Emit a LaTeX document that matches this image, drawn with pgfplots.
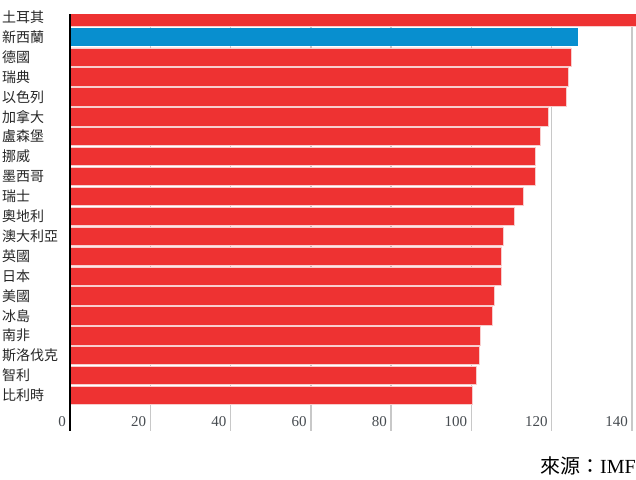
\documentclass[border=0pt]{standalone}
\usepackage{pgfplots}
\pgfplotsset{compat=1.18}
\usepackage{fontspec}
\setmainfont{Liberation Serif}
\newfontfamily\cjk{Noto Sans CJK TC}
\definecolor{barred}{RGB}{238,50,50}
\definecolor{barblue}{RGB}{8,143,207}
\definecolor{gridgray}{RGB}{200,200,200}
\definecolor{ticktext}{RGB}{70,75,80}
\definecolor{sep}{RGB}{248,205,205}
\begin{document}
\begin{tikzpicture}
\path[use as bounding box] (0,0) rectangle (636bp,480bp);
\begin{axis}[
  at={(70bp,49bp)}, anchor=south west,
  scale only axis, width=566bp, height=416.7bp,
  enlargelimits=false,
  xmin=0, xmax=141, ymin=-0.14, ymax=20.79,
  y dir=reverse,
  xbar, bar shift=0pt, bar width=0.917,
  axis lines=left, axis line style={-},
  x axis line style={draw=none},
  y axis line style={line width=2bp, black},
  major tick length=0pt,
  xtick={0,20,...,140},
  xmajorgrids, grid style={gridgray, line width=1.3bp},
  ytick={0,...,19},
  yticklabels={土耳其,新西蘭,德國,瑞典,以色列,加拿大,盧森堡,挪威,墨西哥,瑞士,奧地利,澳大利亞,英國,日本,美國,冰島,南非,斯洛伐克,智利,比利時},
  yticklabel style={anchor=west, inner sep=0pt, xshift=-68bp, font=\cjk\fontsize{14bp}{16bp}\selectfont, text=black!85},
  xticklabel style={anchor=base east, inner sep=0pt, xshift=-4bp, yshift=5bp, font=\fontsize{15bp}{17bp}\selectfont, text=ticktext},
  /pgf/number format/assume math mode=true,
  clip=true,
]
\addplot[fill=barred, draw=sep, line width=0.4bp] coordinates {
(150,0) (124.8,2) (124.2,3) (123.7,4) (119.1,5) (117.2,6) (115.9,7) (115.9,8) (112.8,9) (110.6,10) (107.9,11) (107.5,12) (107.5,13) (105.6,14) (105.3,15) (102.1,16) (101.9,17) (101.3,18) (100.2,19)
};
\addplot[fill=barblue, draw=none] coordinates {(126.5,1)};
\draw[line width=2bp, black] (rel axis cs:0,0) -- (rel axis cs:0,1);
\end{axis}
\node[anchor=base east, inner sep=0pt] at (636bp,7bp) {\fontsize{20bp}{22bp}\selectfont{\cjk 來源：}IMF};
\end{tikzpicture}
\end{document}
